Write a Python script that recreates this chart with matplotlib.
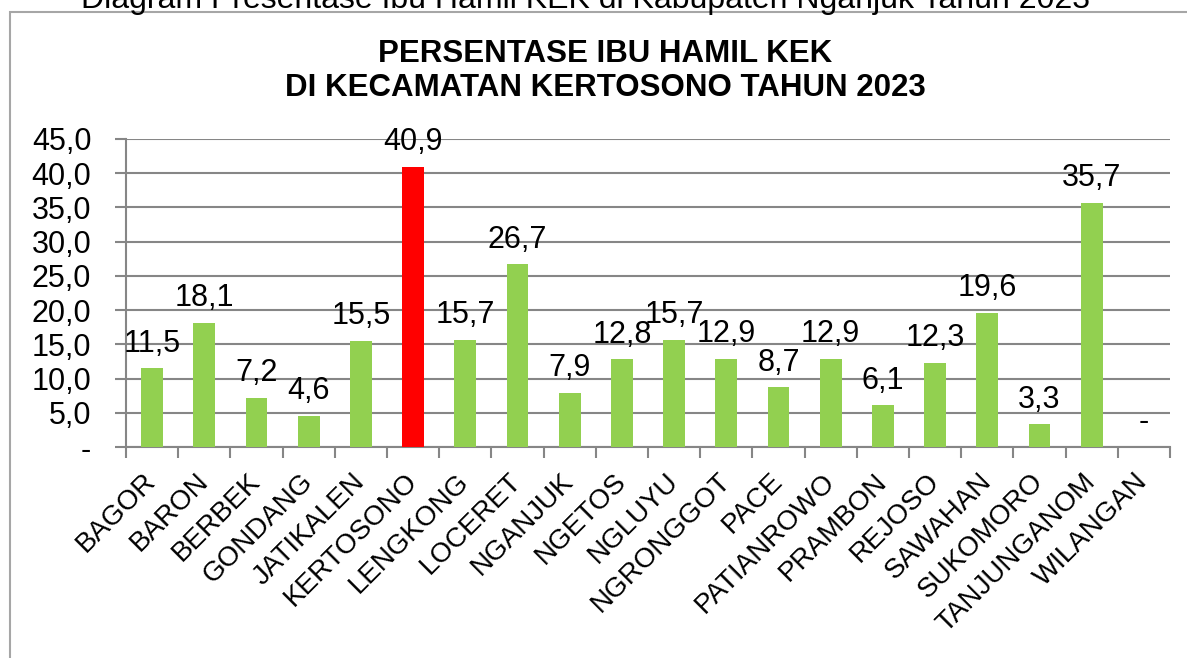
import matplotlib
matplotlib.use("Agg")
import matplotlib.pyplot as plt
from matplotlib.patches import Rectangle

categories = ["BAGOR", "BARON", "BERBEK", "GONDANG", "JATIKALEN", "KERTOSONO",
              "LENGKONG", "LOCERET", "NGANJUK", "NGETOS", "NGLUYU", "NGRONGGOT",
              "PACE", "PATIANROWO", "PRAMBON", "REJOSO", "SAWAHAN", "SUKOMORO",
              "TANJUNGANOM", "WILANGAN"]
values = [11.5, 18.1, 7.2, 4.6, 15.5, 40.9, 15.7, 26.7, 7.9, 12.8, 15.7, 12.9,
          8.7, 12.9, 6.1, 12.3, 19.6, 3.3, 35.7, 0.0]
highlight = "KERTOSONO"
yticks = [0, 5, 10, 15, 20, 25, 30, 35, 40, 45]
title = "PERSENTASE IBU HAMIL KEK\nDI KECAMATAN KERTOSONO TAHUN 2023"
caption = "Diagram Presentase Ibu Hamil KEK di Kabupaten Nganjuk Tahun 2023"

plt.rcParams['font.family'] = ['Liberation Sans', 'DejaVu Sans']

W, H = 1187, 658
fig = plt.figure(figsize=(W / 100, H / 100), dpi=100)

# outer frame
fig.patches.append(Rectangle((10 / W, -0.1), 1.2, (H - 12) / H + 0.1,
                             transform=fig.transFigure, fill=False,
                             edgecolor="#a6a6a6", linewidth=1.5))
fig.text(0.493, 1 - 8 / H, caption, ha="center", va="baseline", fontsize=23, color="black")

ax = fig.add_axes([126 / W, 1 - 447 / H, (1170 - 126) / W, (447 - 139) / H])
x = list(range(len(categories)))
colors = ["#FF0000" if c == highlight else "#92D050" for c in categories]
ax.bar(x, values, width=0.42, color=colors, zorder=3)

ax.set_xlim(-0.5, len(categories) - 0.5)
ax.set_ylim(0, 45)
ax.set_yticks(yticks)
ax.set_yticklabels(["-" if v == 0 else f"{v:.1f}".replace(".", ",") for v in yticks], fontsize=22)
ax.yaxis.grid(True, color="#868686", linewidth=1.5, zorder=0)
ax.set_axisbelow(True)

ax.set_xticks([i - 0.5 for i in range(len(categories) + 1)], minor=False)
ax.set_xticklabels([])
ax.set_xticks(x, minor=True)
ax.set_xticklabels(categories, minor=True, rotation=45, ha="right", va="center",
                   rotation_mode="anchor", fontsize=20)
ax.tick_params(axis="x", which="minor", length=0, pad=22)
ax.tick_params(axis="x", which="major", length=8, color="#868686", width=1.5)
ax.tick_params(axis="y", length=8, color="#868686", width=1.5, pad=17)

for s in ["top", "right"]:
    ax.spines[s].set_visible(False)
for s in ["left", "bottom"]:
    ax.spines[s].set_color("#868686")
    ax.spines[s].set_linewidth(1.5)

for xi, v in zip(x, values):
    lab = "-" if v == 0 else f"{v:.1f}".replace(".", ",")
    ax.annotate(lab, (xi, v), xytext=(0, 7), textcoords="offset points",
                ha="center", va="bottom", fontsize=22)

fig.text(0.5097, 1 - 71 / H, title, ha="center", va="center", fontsize=22.5,
         fontweight="bold", linespacing=1.15)

fig.savefig("out.png", dpi=100)
